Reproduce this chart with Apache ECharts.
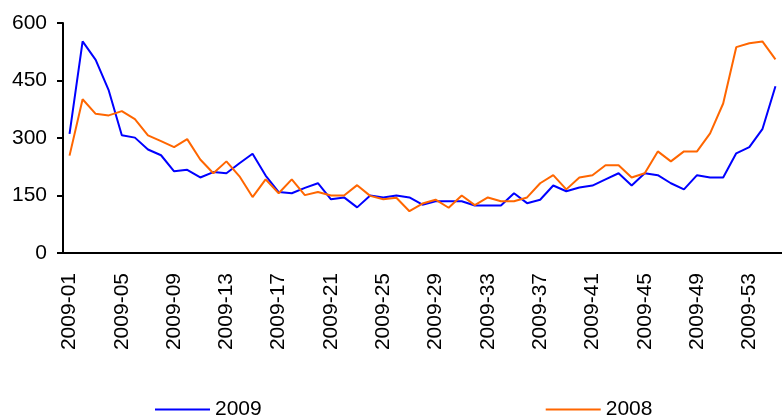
<!DOCTYPE html>
<html>
<head>
<meta charset="utf-8">
<script src="https://cdn.jsdelivr.net/npm/echarts@6/dist/echarts.min.js"></script>
<style>
  html, body { margin: 0; padding: 0; background: #fff; }
  #chart { width: 782px; height: 416px; }
</style>
</head>
<body>
<div id="chart"></div>
<script>
// weeks 2009-01 .. 2009-55
var weeks = [];
for (var i = 1; i <= 55; i++) {
  weeks.push('2009-' + (i < 10 ? '0' + i : '' + i));
}

var data2009 = [311, 552, 504, 424, 307, 301, 270, 255, 213, 217,
  197, 211, 208, 234, 259, 202, 159, 156, 170, 182,
  140, 145, 119, 150, 145, 150, 145, 126, 135, 135,
  135, 124, 124, 124, 156, 130, 139, 176, 161, 171,
  176, 192, 208, 176, 208, 203, 182, 166, 203, 197,
  197, 260, 276, 323, 435];

var data2008 = [254, 401, 363, 359, 370, 349, 307, 292, 276, 297,
  244, 208, 239, 200, 146, 192, 156, 192, 151, 159,
  150, 150, 177, 149, 140, 144, 109, 129, 139, 118,
  150, 125, 145, 135, 135, 145, 182, 203, 166, 197,
  203, 229, 229, 197, 208, 265, 239, 265, 265, 312,
  390, 537, 547, 552, 505];

var font = 'Arial, "Liberation Sans", sans-serif';

(function() 
{
  var myChart = echarts.init(document.getElementById('chart'));

  var option = {
    animation: false,
    textStyle: {
      fontFamily: font,
      color: '#000'
    },
    grid: {
      left: 63,
      top: 23,
      bottom: 163,
      right: -8,
      containLabel: false
    },
    legend: {
      data: [
        { name: '2009', icon: 'rect' },
        { name: '2008', icon: 'rect' }
      ],
      left: 150,
      top: 394,
      itemWidth: 55,
      itemHeight: 2,
      itemGap: 284,
      textStyle: {
        fontSize: 21,
        fontFamily: font,
        color: '#000'
      }
    },
    xAxis: {
      type: 'category',
      data: weeks,
      boundaryGap: true,
      axisLine: {
        lineStyle: { color: '#000', width: 2 }
      },
      axisTick: {
        interval: 0,
        length: 6,
        lineStyle: { color: '#000', width: 2 }
      },
      axisLabel: {
        interval: 3,
        rotate: 90,
        margin: 20,
        fontSize: 21,
        color: '#000'
      },
      splitLine: { show: false }
    },
    yAxis: {
      type: 'value',
      min: 0,
      max: 600,
      interval: 150,
      axisLine: {
        show: true,
        lineStyle: { color: '#000', width: 2 }
      },
      axisTick: {
        show: true,
        length: 6,
        lineStyle: { color: '#000', width: 2 }
      },
      axisLabel: {
        margin: 16,
        fontSize: 21,
        color: '#000'
      },
      splitLine: { show: false }
    },
    series: [
      {
        name: '2009',
        type: 'line',
        data: data2009,
        symbol: 'none',
        color: '#0000ff',
        lineStyle: { width: 2, color: '#0000ff' }
      },
      {
        name: '2008',
        type: 'line',
        data: data2008,
        symbol: 'none',
        color: '#ff6600',
        lineStyle: { width: 2, color: '#ff6600' }
      }
    ]
  };
  myChart.setOption(option);
})();
</script>
</body>
</html>
